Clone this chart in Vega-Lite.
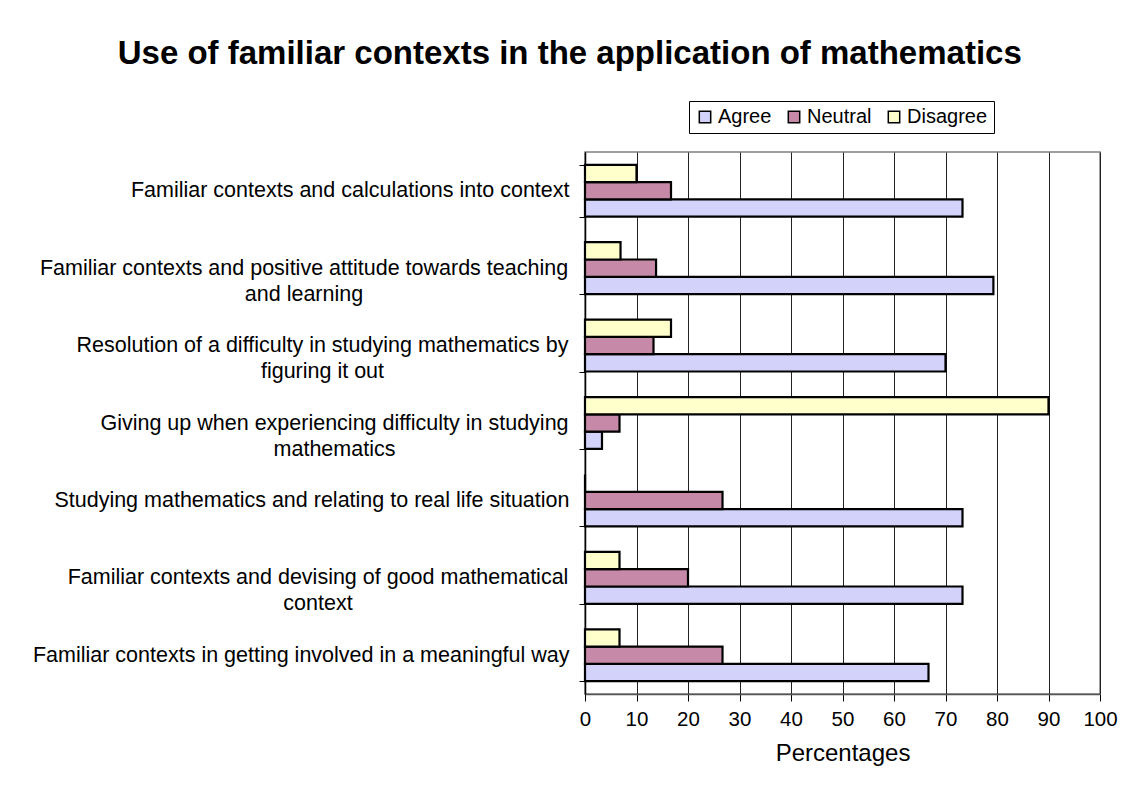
{
  "$schema": "https://vega.github.io/schema/vega-lite/v6.json",
  "width": 515,
  "height": 542,
  "autosize": {"type": "none"},
  "padding": {"left": 585, "top": 152, "right": 38, "bottom": 110},
  "background": "white",
  "title": {
    "text": "Use of familiar contexts in the application of mathematics",
    "font": "Liberation Sans",
    "fontSize": 33,
    "fontWeight": "bold",
    "color": "black",
    "anchor": "middle",
    "frame": "bounds",
    "offset": 30,
    "dx": -5
  },
  "data": {
    "values": [
      {"category": "Familiar contexts and calculations into context", "response": "Agree", "value": 73.3},
      {"category": "Familiar contexts and calculations into context", "response": "Neutral", "value": 16.7},
      {"category": "Familiar contexts and calculations into context", "response": "Disagree", "value": 10},
      {"category": "Familiar contexts and positive attitude towards teaching and learning", "response": "Agree", "value": 79.3},
      {"category": "Familiar contexts and positive attitude towards teaching and learning", "response": "Neutral", "value": 13.8},
      {"category": "Familiar contexts and positive attitude towards teaching and learning", "response": "Disagree", "value": 6.9},
      {"category": "Resolution of a difficulty in studying mathematics by figuring it out", "response": "Agree", "value": 70},
      {"category": "Resolution of a difficulty in studying mathematics by figuring it out", "response": "Neutral", "value": 13.3},
      {"category": "Resolution of a difficulty in studying mathematics by figuring it out", "response": "Disagree", "value": 16.7},
      {"category": "Giving up when experiencing difficulty in studying mathematics", "response": "Agree", "value": 3.3},
      {"category": "Giving up when experiencing difficulty in studying mathematics", "response": "Neutral", "value": 6.7},
      {"category": "Giving up when experiencing difficulty in studying mathematics", "response": "Disagree", "value": 90},
      {"category": "Studying mathematics and relating to real life situation", "response": "Agree", "value": 73.3},
      {"category": "Studying mathematics and relating to real life situation", "response": "Neutral", "value": 26.7},
      {"category": "Studying mathematics and relating to real life situation", "response": "Disagree", "value": 0},
      {"category": "Familiar contexts and devising of good mathematical context", "response": "Agree", "value": 73.3},
      {"category": "Familiar contexts and devising of good mathematical context", "response": "Neutral", "value": 20},
      {"category": "Familiar contexts and devising of good mathematical context", "response": "Disagree", "value": 6.7},
      {"category": "Familiar contexts in getting involved in a meaningful way", "response": "Agree", "value": 66.7},
      {"category": "Familiar contexts in getting involved in a meaningful way", "response": "Neutral", "value": 26.7},
      {"category": "Familiar contexts in getting involved in a meaningful way", "response": "Disagree", "value": 6.7}
    ]
  },
  "mark": {"type": "bar", "stroke": "black", "strokeWidth": 2.2, "opacity": 1},
  "encoding": {
    "y": {
      "field": "category",
      "type": "nominal",
      "sort": null,
      "scale": {"paddingInner": 0.33, "paddingOuter": 0.165},
      "axis": {
        "title": null,
        "domainColor": "black",
        "domainWidth": 1.5,
        "tickBand": "extent",
        "tickColor": "black",
        "tickSize": 6,
        "tickWidth": 1,
        "labelFont": "Liberation Sans",
        "labelFontSize": 21.5,
        "labelColor": "black",
        "labelLimit": 700,
        "labelAlign": {
          "condition": {"test": "indexof(['Familiar contexts and positive attitude towards teaching and learning', 'Resolution of a difficulty in studying mathematics by figuring it out', 'Giving up when experiencing difficulty in studying mathematics', 'Familiar contexts and devising of good mathematical context'], datum.value) >= 0", "value": "center"},
          "value": "right"
        },
        "labelPadding": {
          "condition": [
            {"test": "datum.value == 'Familiar contexts and positive attitude towards teaching and learning'", "value": 275.5},
            {"test": "datum.value == 'Resolution of a difficulty in studying mathematics by figuring it out'", "value": 257},
            {"test": "datum.value == 'Giving up when experiencing difficulty in studying mathematics'", "value": 245},
            {"test": "datum.value == 'Familiar contexts and devising of good mathematical context'", "value": 261.5}
          ],
          "value": 10
        },
        "labelLineHeight": 26,
        "labelBaseline": "middle",
        "labelExpr": "datum.value == 'Familiar contexts and positive attitude towards teaching and learning' ? ['Familiar contexts and positive attitude towards teaching', 'and learning'] : datum.value == 'Resolution of a difficulty in studying mathematics by figuring it out' ? ['Resolution of a difficulty in studying mathematics by', 'figuring it out'] : datum.value == 'Giving up when experiencing difficulty in studying mathematics' ? ['Giving up when experiencing difficulty in studying', 'mathematics'] : datum.value == 'Familiar contexts and devising of good mathematical context' ? ['Familiar contexts and devising of good mathematical', 'context'] : datum.value"
      }
    },
    "yOffset": {
      "field": "response",
      "type": "nominal",
      "sort": ["Disagree", "Neutral", "Agree"],
      "scale": {"paddingInner": 0, "paddingOuter": 0}
    },
    "x": {
      "field": "value",
      "type": "quantitative",
      "scale": {"domain": [0, 100], "nice": false},
      "axis": {
        "title": "Percentages",
        "titleFont": "Liberation Sans",
        "titleFontSize": 24,
        "titleFontWeight": "normal",
        "titleColor": "black",
        "titlePadding": 12,
        "values": [0, 10, 20, 30, 40, 50, 60, 70, 80, 90, 100],
        "grid": true,
        "gridColor": "#222222",
        "gridWidth": 1,
        "domainColor": "#555555",
        "domainWidth": 1.5,
        "tickColor": "black",
        "tickSize": 7,
        "labelFont": "Liberation Sans",
        "labelFontSize": 20.5,
        "labelColor": "black",
        "labelPadding": 8,
        "labelFlush": false
      }
    },
    "color": {
      "field": "response",
      "type": "nominal",
      "scale": {"domain": ["Agree", "Neutral", "Disagree"], "range": ["#d2d2fa", "#c68aa8", "#ffffcc"]},
      "legend": {
        "title": null,
        "orient": "none",
        "direction": "horizontal",
        "legendX": 104,
        "legendY": -51,
        "strokeColor": "black",
        "fillColor": "white",
        "padding": 6,
        "symbolType": "square",
        "symbolSize": 130,
        "symbolStrokeColor": "black",
        "symbolStrokeWidth": 1.5,
        "symbolOpacity": 1,
        "labelFont": "Liberation Sans",
        "labelFontSize": 20,
        "labelColor": "black",
        "labelOffset": 3,
        "columnPadding": 12
      }
    }
  },
  "config": {
    "view": {"stroke": "#808080", "strokeWidth": 1.5}
  }
}
